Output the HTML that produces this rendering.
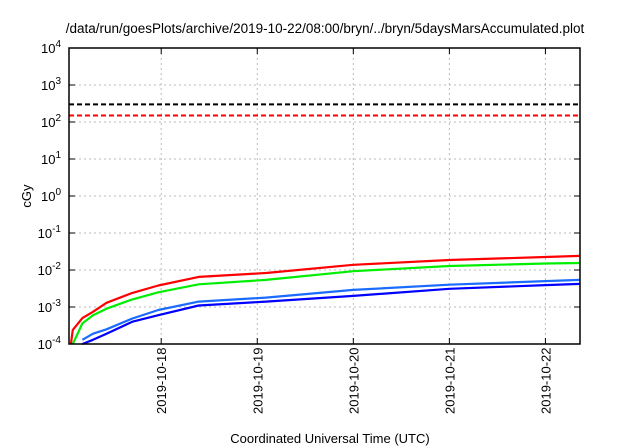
<!DOCTYPE html>
<html><head><meta charset="utf-8"><style>
body{margin:0;background:#fff;}
svg{display:block;font-family:"Liberation Sans",sans-serif;}
</style></head><body>
<svg id="c" width="640" height="448">
<text x="325" y="33" font-size="13.5" text-anchor="middle">/data/run/goesPlots/archive/2019-10-22/08:00/bryn/../bryn/5daysMarsAccumulated.plot</text>
<text x="330" y="443" font-size="13" text-anchor="middle">Coordinated Universal Time (UTC)</text>
<text transform="translate(31,196) rotate(-90)" font-size="13" text-anchor="middle">cGy</text>
<g id="grid"></g><g id="series"></g><g id="axes"></g>
</svg>
<script>
const days=[17.06,17.08,17.18,17.29,17.43,17.70,17.97,18.39,19.09,20,21,22,22.36];
const red=[0.0001,0.00024,0.0005,0.00074,0.0013,0.0024,0.0038,0.0065,0.0083,0.0138,0.0186,0.0225,0.024];
const green=[null,0.0001,0.00036,0.0006,0.0009,0.0016,0.0025,0.0041,0.0054,0.0093,0.0128,0.0150,0.0155];
const lightBlue=[null,null,0.00013,0.00019,0.00025,0.00049,0.00083,0.0014,0.0018,0.0029,0.0040,0.0050,0.0054];
const darkBlue=[null,null,0.0001,0.00013,0.00019,0.0004,0.0006,0.0011,0.0014,0.002,0.0031,0.0039,0.0042];
const thresholdBlack=300, thresholdRed=150;
const xTicks=[18,19,20,21,22];
const xTickLabels=["2019-10-18","2019-10-19","2019-10-20","2019-10-21","2019-10-22"];
const yExps=[-4,-3,-2,-1,0,1,2,3,4];
const L=69,R=580,T=48,B=344,d0=17.04,d1=22.36;
const xs=d=>L+(d-d0)/(d1-d0)*(R-L);
const ys=v=>B-(Math.log10(v)+4)/8*(B-T);
const NS="http://www.w3.org/2000/svg";
function mk(p,t,a){const e=document.createElementNS(NS,t);for(const k in a)e.setAttribute(k,a[k]);p.appendChild(e);return e;}
const grid=document.getElementById('grid'),ser=document.getElementById('series'),ax=document.getElementById('axes');
yExps.forEach(e=>{const y=ys(Math.pow(10,e));
 if(e>-4&&e<4){const g=mk(grid,'line',{x1:L,x2:R,y1:y,y2:y,stroke:'#bbb','stroke-dasharray':'2,3','stroke-width':1});
 }
 const t=mk(ax,'text',{x:L-8,y:y+5,'font-size':13,'text-anchor':'end'});
 
 t.textContent='10';const s=mk(t,'tspan',{dy:-6,'font-size':10});s.textContent=String(e);
 mk(ax,'line',{x1:L,x2:L+6,y1:y,y2:y,stroke:'#000'});mk(ax,'line',{x1:R,x2:R-6,y1:y,y2:y,stroke:'#000'});
});
xTicks.forEach((d,i)=>{const x=xs(d);
 const g=mk(grid,'line',{x1:x,x2:x,y1:T,y2:B,stroke:'#bbb','stroke-dasharray':'2,3','stroke-width':1});
 
 mk(ax,'line',{x1:x,x2:x,y1:B,y2:B-6,stroke:'#000'});mk(ax,'line',{x1:x,x2:x,y1:T,y2:T+6,stroke:'#000'});
 const t=mk(ax,'text',{transform:`translate(${x+5},${B+70}) rotate(-90)`,'font-size':13});
 t.textContent=xTickLabels[i];
});
const f=mk(ax,'rect',{x:L,y:T,width:R-L,height:B-T,fill:'none',stroke:'#000','stroke-width':1.5});

[[thresholdBlack,'#000','threshold-black'],[thresholdRed,'#f00','threshold-red']].forEach(([v,c,n])=>{
 const l=mk(ser,'line',{x1:L,x2:R,y1:ys(v),y2:ys(v),stroke:c,'stroke-width':2,'stroke-dasharray':'5,3'});
 });
[[red,'#f00','red-series'],[green,'#0e0','green-series'],[lightBlue,'#1a6bff','light-blue-series'],[darkBlue,'#00f','dark-blue-series']].forEach(([a,c,n])=>{
 let p='';a.forEach((v,i)=>{if(v==null)return;p+=(p?'L':'M')+xs(days[i]).toFixed(1)+','+ys(v).toFixed(1);});
 const e=mk(ser,'path',{d:p,fill:'none',stroke:c,'stroke-width':2.2,'stroke-linejoin':'round'});
 });
</script>
</body></html>
